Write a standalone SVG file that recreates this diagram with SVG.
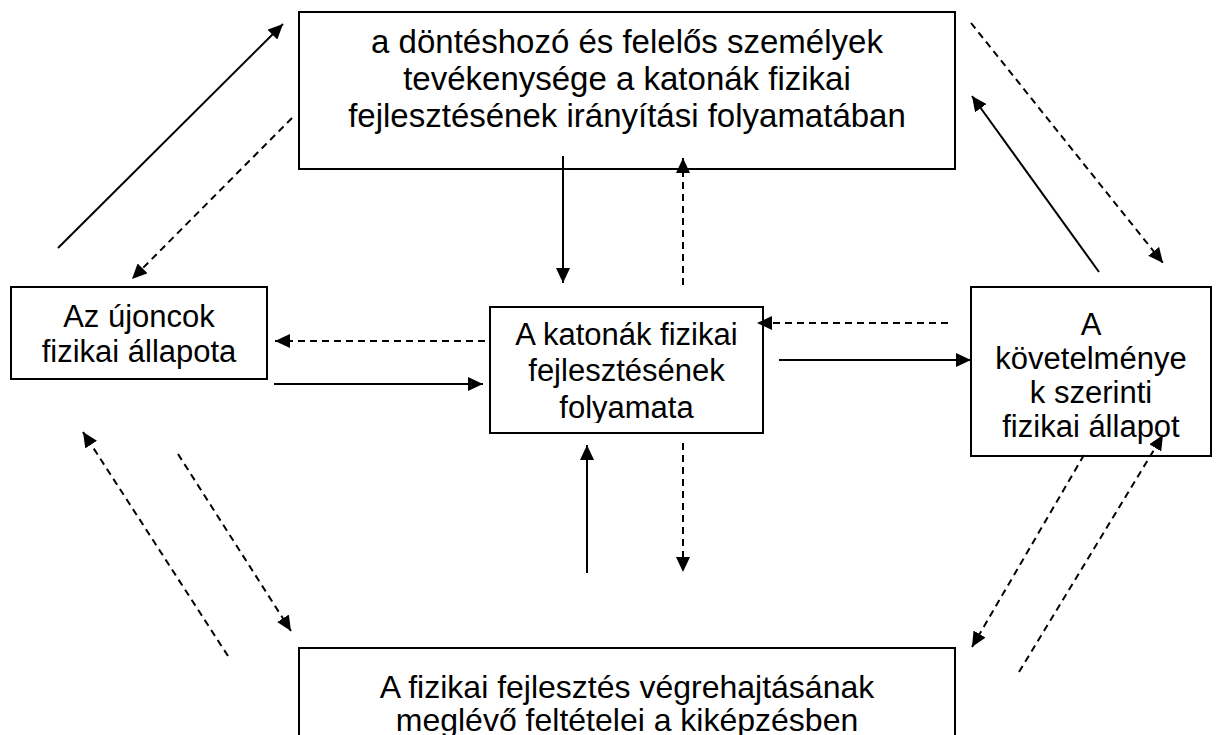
<svg xmlns="http://www.w3.org/2000/svg" width="1217" height="735" viewBox="0 0 1217 735">
<defs>
<marker id="ah" markerUnits="userSpaceOnUse" markerWidth="16" markerHeight="14" refX="15" refY="7" orient="auto">
<path d="M0,0 L15,7 L0,14 z" fill="#000"/>
</marker>
<clipPath id="cc"><rect x="491" y="308" width="271" height="115"/></clipPath>
</defs>
<style>
.box{fill:#fff;stroke:#000;stroke-width:2}
.t{font-family:"Liberation Sans",Arial,sans-serif;fill:#000;text-anchor:middle}
.s{stroke:#000;stroke-width:2;fill:none;marker-end:url(#ah)}
.d{stroke:#000;stroke-width:2;fill:none;stroke-dasharray:7 5;marker-end:url(#ah)}
</style>
<rect width="1217" height="735" fill="#fff"/>
<g id="top">
<rect class="box" x="299" y="12" width="656" height="157"/>
<text class="t" font-size="33"><tspan x="627" y="53">a döntéshozó és felelős személyek</tspan><tspan x="627" y="90">tevékenysége a katonák fizikai</tspan><tspan x="627" y="127">fejlesztésének irányítási folyamatában</tspan></text>
</g>
<g id="left">
<rect class="box" x="11" y="287" width="256" height="92"/>
<text class="t" font-size="31"><tspan x="139" y="327">Az újoncok</tspan><tspan x="139" y="362">fizikai állapota</tspan></text>
</g>
<g id="center">
<rect class="box" x="490" y="307" width="273" height="126"/>
<text class="t" font-size="31" clip-path="url(#cc)"><tspan x="626.5" y="345">A katonák fizikai</tspan><tspan x="626.5" y="381">fejlesztésének</tspan><tspan x="626.5" y="418">folyamata</tspan></text>
</g>
<g id="right">
<rect class="box" x="971" y="287" width="240" height="169"/>
<text class="t" font-size="31"><tspan x="1091" y="335">A</tspan><tspan x="1091" y="369">követelménye</tspan><tspan x="1091" y="403">k szerinti</tspan><tspan x="1091" y="437">fizikai állapot</tspan></text>
</g>
<g id="bottom">
<rect class="box" x="299" y="648" width="656" height="120"/>
<text class="t" font-size="32"><tspan x="627" y="698">A fizikai fejlesztés végrehajtásának</tspan><tspan x="627" y="731">meglévő feltételei a kiképzésben</tspan></text>
</g>
<g id="connectors">
<line class="s" x1="58" y1="248" x2="283" y2="24"/>
<line class="d" x1="292" y1="118" x2="132" y2="279"/>
<line class="d" x1="971" y1="23" x2="1163" y2="263"/>
<line class="s" x1="1099" y1="272" x2="972" y2="96"/>
<line class="s" x1="563" y1="156" x2="563" y2="283"/>
<line class="d" x1="683" y1="285" x2="683" y2="158"/>
<line class="d" x1="485" y1="341" x2="275" y2="341"/>
<line class="s" x1="274" y1="384" x2="483" y2="384"/>
<line class="d" x1="948" y1="323" x2="757" y2="323"/>
<line class="s" x1="779" y1="360" x2="971" y2="360"/>
<line class="s" x1="587" y1="573" x2="587" y2="445"/>
<line class="d" x1="683" y1="443" x2="683" y2="572"/>
<line class="d" x1="228" y1="656" x2="83" y2="432"/>
<line class="d" x1="178" y1="454" x2="291" y2="631"/>
<line class="d" x1="1084" y1="455" x2="972" y2="647"/>
<line class="d" x1="1019" y1="672" x2="1163" y2="435"/>
</g>
</svg>
